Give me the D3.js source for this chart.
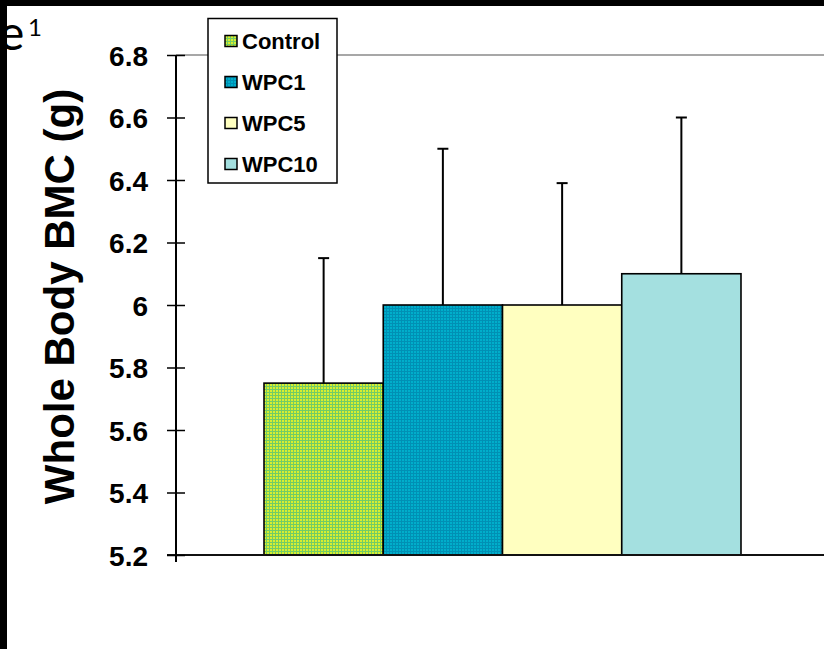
<!DOCTYPE html>
<html>
<head>
<meta charset="utf-8">
<script src="https://cdn.jsdelivr.net/npm/d3@7"></script>
<style>
  html, body { margin: 0; padding: 0; background: #fff; }
  svg { display: block; }
</style>
</head>
<body>
<svg id="chart" width="824" height="649"></svg>
<script>
// ---- data ----
const categories = ["Control", "WPC1", "WPC5", "WPC10"];
const means = [5.75, 6.0, 6.0, 6.1];
const sds = [0.40, 0.50, 0.39, 0.50];
const yTicks = [5.2, 5.4, 5.6, 5.8, 6.0, 6.2, 6.4, 6.6, 6.8];
const yTickLabels = ["5.2", "5.4", "5.6", "5.8", "6", "6.2", "6.4", "6.6", "6.8"];
const yTitle = "Whole Body BMC (g)";

const svg = d3.select("#chart");
const W = 824, H = 649;
const margin = { left: 176, right: -5, top: 55, bottom: 94 };

svg.append("rect").attr("width", W).attr("height", H).attr("fill", "#fff");

// patterns
const defs = svg.append("defs");
const pCtrl = defs.append("pattern").attr("id", "pCtrl").attr("patternUnits", "userSpaceOnUse")
  .attr("width", 3).attr("height", 3);
pCtrl.append("rect").attr("width", 3).attr("height", 3).attr("fill", "#72cc66");
pCtrl.append("rect").attr("width", 2).attr("height", 2).attr("fill", "#d8ee30");
const pW1 = defs.append("pattern").attr("id", "pW1").attr("patternUnits", "userSpaceOnUse")
  .attr("width", 3).attr("height", 3);
pW1.append("rect").attr("width", 3).attr("height", 3).attr("fill", "#0090b4");
pW1.append("rect").attr("width", 2).attr("height", 2).attr("fill", "#00aecb");

const fills = ["url(#pCtrl)", "url(#pW1)", "#ffffc0", "#a4e0e0"];

// "e¹" remnant text
svg.append("text").attr("x", -1).attr("y", 50)
  .attr("font-family", "Lato, 'Open Sans', sans-serif").attr("font-size", 48)
  .attr("fill", "#000").text("e");
svg.append("text").attr("x", 28).attr("y", 36)
  .attr("font-family", "Lato, 'Open Sans', sans-serif").attr("font-size", 24)
  .attr("fill", "#000").text("1");

// scales
const y = d3.scaleLinear().domain([5.2, 6.8]).range([H - margin.bottom, margin.top]);
const x = d3.scaleBand().domain(categories)
  .range([margin.left, W - margin.right]).paddingInner(0).paddingOuter(0.738);

const font = "'Liberation Sans', Arial, sans-serif";

// top plot border (gray)
svg.append("line")
  .attr("x1", margin.left).attr("x2", W).attr("y1", y(6.8)).attr("y2", y(6.8))
  .attr("stroke", "#8a8a8a").attr("stroke-width", 1.5);

// bars
svg.selectAll("rect.bar").data(categories).join("rect")
  .attr("class", "bar")
  .attr("x", d => x(d))
  .attr("y", (d, i) => y(means[i]))
  .attr("width", x.bandwidth())
  .attr("height", (d, i) => y(5.2) - y(means[i]))
  .attr("fill", (d, i) => fills[i])
  .attr("stroke", "#000").attr("stroke-width", 1.6);

// error bars
const eb = svg.append("g").attr("stroke", "#000").attr("stroke-width", 2);
categories.forEach((c, i) => {
  const cx = x(c) + x.bandwidth() / 2;
  eb.append("line").attr("x1", cx).attr("x2", cx)
    .attr("y1", y(means[i])).attr("y2", y(means[i] + sds[i]));
  eb.append("line").attr("x1", cx - 5.5).attr("x2", cx + 5.5)
    .attr("y1", y(means[i] + sds[i])).attr("y2", y(means[i] + sds[i]));
});

// bottom axis line
svg.append("line")
  .attr("x1", margin.left - 9).attr("x2", W).attr("y1", y(5.2)).attr("y2", y(5.2))
  .attr("stroke", "#111").attr("stroke-width", 2);

// y axis
const yAxis = d3.axisLeft(y).tickValues(yTicks)
  .tickFormat((d, i) => yTickLabels[i])
  .tickSizeInner(9).tickSizeOuter(0).tickPadding(19);
const gy = svg.append("g").attr("transform", `translate(${margin.left},0)`).call(yAxis);
gy.select(".domain").remove();
gy.selectAll(".tick line").attr("x1", 9).attr("stroke", "#000").attr("stroke-width", 1.5);
gy.selectAll(".tick text")
  .attr("font-family", font).attr("font-size", 28).attr("font-weight", "bold")
  .attr("fill", "#000").attr("dy", "0.36em");
gy.append("line").attr("x1", 0).attr("x2", 0)
  .attr("y1", y(6.8)).attr("y2", y(5.2) + 7)
  .attr("stroke", "#000").attr("stroke-width", 2);

// y title
svg.append("text")
  .attr("transform", `translate(74, ${(88 + 505) / 2}) rotate(-90)`)
  .attr("text-anchor", "middle")
  .attr("font-family", font).attr("font-size", 42).attr("font-weight", "bold")
  .attr("fill", "#000").text(yTitle);

// legend
const lg = svg.append("g");
lg.append("rect").attr("x", 208).attr("y", 18.5).attr("width", 129).attr("height", 164.5)
  .attr("fill", "#fff").attr("stroke", "#000").attr("stroke-width", 1.5);
categories.forEach((c, i) => {
  const cy = 41 + i * 41;
  lg.append("rect").attr("x", 225).attr("y", cy - 5.5).attr("width", 12).attr("height", 11)
    .attr("fill", fills[i]).attr("stroke", "#000").attr("stroke-width", 1.5);
  lg.append("text").attr("x", 242).attr("y", cy + 8)
    .attr("font-family", font).attr("font-size", 22).attr("font-weight", "bold")
    .attr("fill", "#000").text(c);
});

// black frame bands
svg.append("rect").attr("x", 0).attr("y", 0).attr("width", W).attr("height", 6).attr("fill", "#000");
svg.append("rect").attr("x", 0).attr("y", 0).attr("width", 7).attr("height", H).attr("fill", "#000");
</script>
</body>
</html>
